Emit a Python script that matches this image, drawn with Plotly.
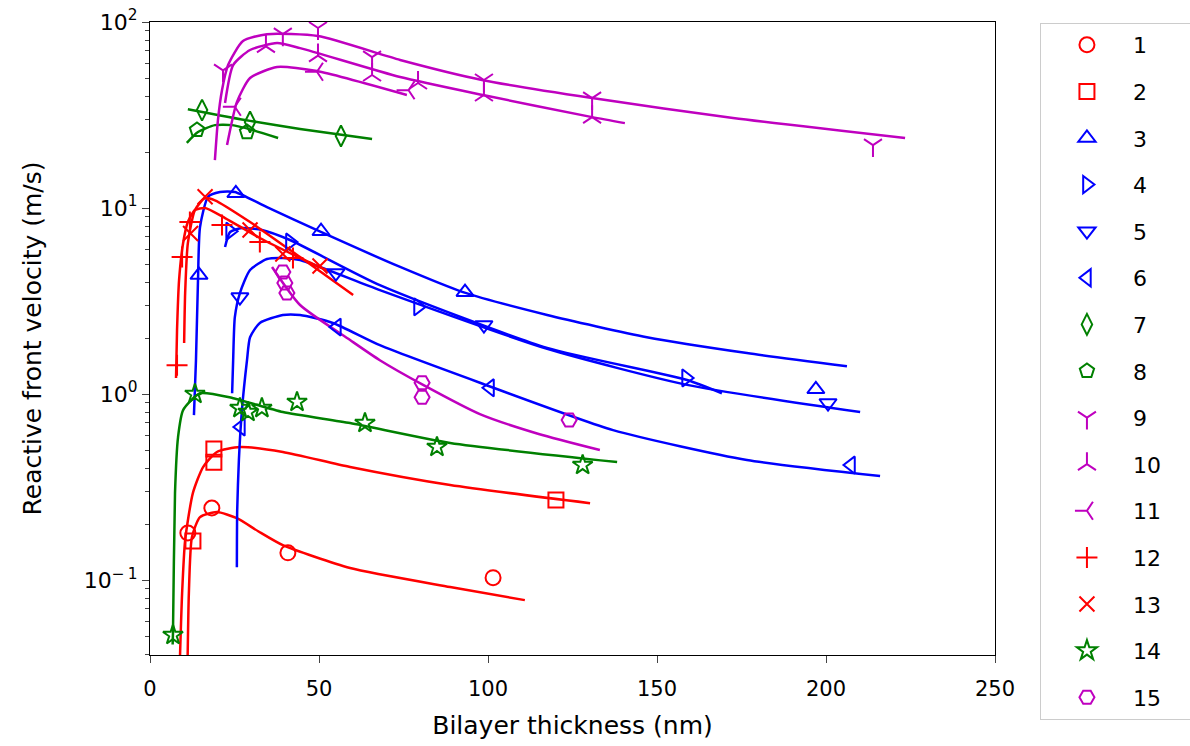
import plotly.graph_objects as go

RED = '#ff0000'
BLUE = '#0000ff'
GREEN = '#008000'
MAG = '#bf00bf'

labels = [str(i) for i in range(1, 16)]
colors = [RED, RED, BLUE, BLUE, BLUE, BLUE, GREEN, GREEN, MAG, MAG, MAG, RED, RED, GREEN, MAG]
symbols = ['circle-open', 'square-open', 'triangle-up-open', 'triangle-right-open',
           'triangle-down-open', 'triangle-left-open', 'diamond-tall-open', 'pentagon-open',
           'y-down-open', 'y-up-open', 'y-left-open', 'cross-thin-open', 'x-thin-open',
           'star-open', 'hexagon2-open']

# measured points (thickness nm, velocity m/s)
mk1_x = [11.2, 18.3, 40.8, 101.5]
mk1_y = [0.179, 0.244, 0.14, 0.103]
mk2_x = [12.7, 18.9, 18.9, 120.1]
mk2_y = [0.162, 0.506, 0.43, 0.269]
mk3_x = [14.5, 25.4, 50.6, 93.2, 197.0]
mk3_y = [4.36, 12.0, 7.5, 3.53, 1.06]
mk4_x = [23.7, 41.4, 79.3, 158.6]
mk4_y = [7.5, 6.56, 2.94, 1.22]
mk5_x = [26.6, 55.0, 98.8, 200.6]
mk5_y = [3.32, 4.47, 2.35, 0.895]
mk6_x = [26.9, 55.3, 100.6, 207.4]
mk6_y = [0.665, 2.29, 1.08, 0.415]
mk7_x = [15.4, 29.6, 56.5]
mk7_y = [33.6, 29.0, 24.4]
mk8_x = [13.9, 28.7]
mk8_y = [26.3, 25.6]
mk9_x = [21.6, 39.3, 49.7, 65.7, 98.8, 130.8, 213.9]
mk9_y = [55, 86, 92.8, 64.8, 48.8, 39.0, 21.8]
mk10_x = [34.3, 49.7, 65.7, 79.3, 98.8, 130.8]
mk10_y = [74, 66, 51.9, 47, 40.5, 30.8]
mk11_x = [25.1, 49.4, 76.5]
mk11_y = [35, 54, 43]
mk12_x = [8.0, 9.5, 11.8, 21.3, 32.5, 42.3]
mk12_y = [1.43, 5.45, 8.4, 8.1, 6.56, 5.39]
mk13_x = [12.0, 16.3, 29.6, 39.3, 50.3]
mk13_y = [7.3, 11.5, 7.62, 5.66, 4.88]
mk14_x = [6.8, 13.3, 26.6, 29.0, 33.1, 43.5, 63.6, 84.9, 128.0]
mk14_y = [0.0506, 1.0, 0.84, 0.80, 0.84, 0.906, 0.698, 0.519, 0.415]
mk15_x = [39.3, 39.9, 40.5, 80.5, 80.5, 124.0]
mk15_y = [4.53, 3.95, 3.49, 1.15, 0.96, 0.725]

# fitted curves
fit1_x = [11.1, 11.5, 12.4, 14.8, 19.8, 25.7, 32.0, 39.3, 59.2, 88.8, 110.9]
fit1_y = [0.035, 0.085, 0.170, 0.218, 0.232, 0.215, 0.183, 0.154, 0.116, 0.0917, 0.078]
fit2_x = [8.8, 9.5, 10.4, 12.7, 15.7, 19.8, 26.6, 39.3, 59.2, 88.8, 130.2]
fit2_y = [0.035, 0.085, 0.164, 0.294, 0.405, 0.488, 0.519, 0.488, 0.405, 0.324, 0.259]
fit3_x = [13.0, 13.6, 14.2, 14.8, 17.2, 20.7, 25.1, 34.6, 49.4, 74.0, 92.6, 117.5, 147.0, 176.6, 206.2]
fit3_y = [0.77, 1.52, 4.1, 7.9, 11.5, 12.2, 12.2, 10.1, 7.6, 4.82, 3.53, 2.66, 2.02, 1.66, 1.41]
fit4_x = [22.2, 23.7, 27.2, 33.1, 41.4, 68.0, 117.5, 158.9, 169.2]
fit4_y = [6.17, 7.43, 7.8, 7.62, 6.73, 3.85, 1.77, 1.19, 1.01]
fit5_x = [24.3, 24.6, 25.1, 26.6, 29.6, 34.6, 39.3, 44.4, 68.0, 117.5, 158.9, 210.1]
fit5_y = [1.01, 1.52, 2.59, 3.49, 4.64, 5.32, 5.39, 5.25, 3.62, 1.75, 1.12, 0.80]
fit6_x = [25.7, 25.8, 26.3, 27.2, 28.7, 29.6, 32.5, 39.3, 44.4, 54.1, 68.0, 97.6, 137.0, 176.6, 216.0]
fit6_y = [0.117, 0.238, 0.442, 0.82, 1.52, 2.02, 2.41, 2.66, 2.66, 2.41, 1.83, 1.15, 0.64, 0.442, 0.362]
fit7_x = [11.2, 29.6, 44.4, 65.7]
fit7_y = [34.0, 29.4, 26.6, 23.5]
fit8_x = [10.9, 14.2, 19.2, 24.3, 30.2, 37.9]
fit8_y = [22.4, 25.6, 27.9, 27.9, 26.3, 23.8]
fit9_x = [19.2, 20.1, 21.3, 23.1, 27.5, 34.6, 49.7, 74.0, 98.2, 130.8, 172.5, 223.4]
fit9_y = [18.1, 29.7, 43, 58.7, 79, 86, 84, 62.5, 48.8, 39.0, 30.5, 23.8]
fit10_x = [22.2, 24.6, 29.6, 37.6, 44.4, 74.0, 98.5, 130.8, 140.5]
fit10_y = [36.7, 58.7, 70.7, 77.1, 72.4, 50.6, 40.5, 30.8, 28.6]
fit11_x = [22.8, 25.7, 29.6, 37.6, 49.4, 76.0]
fit11_y = [21.8, 37.1, 50, 57.3, 54.5, 40.5]
fit12_x = [7.7, 8.0, 8.6, 9.8, 11.2, 13.3, 16.3, 22.2, 32.5, 44.4, 53.3]
fit12_y = [1.22, 2.21, 4.10, 6.48, 8.41, 9.75, 10.0, 8.83, 6.9, 5.39, 4.53]
fit13_x = [10.1, 10.4, 11.2, 13.3, 16.3, 19.2, 29.6, 44.4, 60.1]
fit13_y = [1.88, 3.49, 6.48, 9.75, 11.3, 11.0, 8.41, 5.45, 3.41]
fit14_x = [6.7, 6.8, 7.4, 8.3, 9.8, 14.8, 24.6, 39.3, 59.2, 88.8, 138.2]
fit14_y = [0.045, 0.0519, 0.294, 0.587, 0.82, 1.01, 0.95, 0.80, 0.698, 0.546, 0.431]
fit15_x = [36.1, 44.4, 59.2, 68.0, 80.8, 97.6, 115.0, 133.1]
fit15_y = [4.82, 3.01, 1.95, 1.52, 1.12, 0.78, 0.61, 0.50]

mks = [(mk1_x, mk1_y), (mk2_x, mk2_y), (mk3_x, mk3_y), (mk4_x, mk4_y), (mk5_x, mk5_y),
       (mk6_x, mk6_y), (mk7_x, mk7_y), (mk8_x, mk8_y), (mk9_x, mk9_y), (mk10_x, mk10_y),
       (mk11_x, mk11_y), (mk12_x, mk12_y), (mk13_x, mk13_y), (mk14_x, mk14_y), (mk15_x, mk15_y)]
fits = [(fit1_x, fit1_y), (fit2_x, fit2_y), (fit3_x, fit3_y), (fit4_x, fit4_y), (fit5_x, fit5_y),
        (fit6_x, fit6_y), (fit7_x, fit7_y), (fit8_x, fit8_y), (fit9_x, fit9_y), (fit10_x, fit10_y),
        (fit11_x, fit11_y), (fit12_x, fit12_y), (fit13_x, fit13_y), (fit14_x, fit14_y), (fit15_x, fit15_y)]

fig = go.Figure()
for i in range(15):
    c = colors[i]
    g = 'g%d' % i
    fx, fy = fits[i]
    fig.add_trace(go.Scatter(x=fx, y=fy, mode='lines', line=dict(color=c, width=2.5, shape='spline', smoothing=0.6),
                             showlegend=False, legendgroup=g, hoverinfo='skip'))
for i in range(15):
    c = colors[i]
    g = 'g%d' % i
    mx, my = mks[i]
    fig.add_trace(go.Scatter(x=mx, y=my, mode='markers', name=labels[i] + '\u00a0' * 4, legendgroup=g,
                             marker=dict(symbol=symbols[i], size=15, color=c,
                                         line=dict(color=c, width=2))))

ytv = [0.1, 1, 10, 100]
ytt = ['10<sup>\u2212\u20091</sup>', '10<sup>0</sup>', '10<sup>1</sup>', '10<sup>2</sup>']
minor_vals = [m * 10 ** e for e in (-2, -1, 0, 1) for m in range(2, 10)]

fig.update_layout(
    width=1190, height=746,
    margin=dict(l=150, r=195, t=22, b=91, autoexpand=False),
    plot_bgcolor='white', paper_bgcolor='white',
    font=dict(family='DejaVu Sans', size=21, color='black'),
    xaxis=dict(range=[0, 250], tickvals=[0, 50, 100, 150, 200, 250], ticks='outside', ticklen=7,
               tickwidth=1.3, showline=True, linecolor='black', linewidth=1.3, mirror=True,
               showgrid=False, zeroline=False, ticklabelstandoff=8, automargin=False,
               title=dict(text='Bilayer thickness (nm)', standoff=16)),
    yaxis=dict(type='log', range=[-1.403, 2], tickvals=ytv, ticktext=ytt, ticks='outside', ticklen=7,
               tickwidth=1.3, showline=True, linecolor='black', linewidth=1.3, mirror=True,
               showgrid=False, zeroline=False, tickfont=dict(size=22), ticklabeloverflow='allow',
               automargin=False,
               minor=dict(tickvals=minor_vals, ticks='outside', ticklen=4, tickwidth=1, showgrid=False),
               title=dict(text='Reactive front velocity (m/s)', standoff=34)),
    legend=dict(xref='container', yref='container', x=0.8739, y=0.9692, xanchor='left', yanchor='top',
                bordercolor='#cccccc', borderwidth=1,
                bgcolor='white', font=dict(size=22), traceorder='grouped', tracegroupgap=15,
                itemwidth=82, maxheight=730),
)

fig.write_html('out.html', config={'displayModeBar': False},
               post_script="document.body.style.margin='0';")
